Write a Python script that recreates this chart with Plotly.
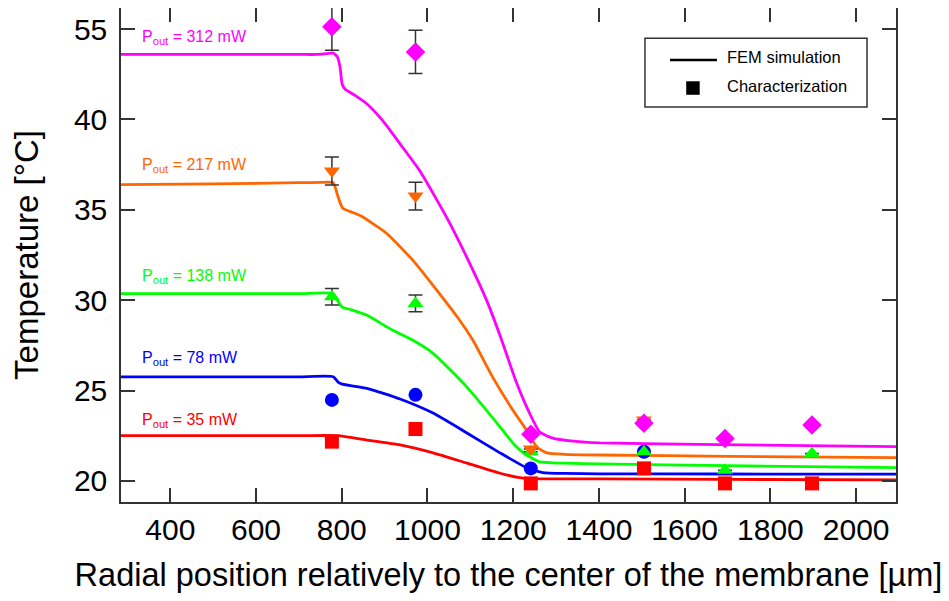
import plotly.graph_objects as go

# ---------------- data ----------------
meas_x = [777, 972, 1241, 1505, 1694, 1897]

red_meas = [22.17, 22.87, 19.86, 20.69, 19.86, 19.86]
blue_meas = [24.48, 24.76, 20.69, 21.61]
green_meas = [30.19, 29.82, 21.61, 21.61, 20.59, 21.52]
green_err = [0.46, 0.46, None, None, None, None]
orange_meas = [37.15, 35.76, 21.76, 23.37]
orange_err = [0.78, 0.77, None, None]
magenta_meas = [45.13, 43.74, 22.58, 23.19, 22.35, 23.09]
magenta_err = [1.3, 1.2, None, None, None, None]

mag_sim_x = [285, 500, 700, 742, 765, 780, 790, 796, 801, 808, 830, 859, 896, 936, 982, 1045, 1092, 1138, 1169, 1208, 1238, 1262, 1292, 1340, 1401, 1681, 2093]
mag_sim_y = [43.6, 43.6, 43.6, 43.6, 43.64, 43.68, 43.45, 42.9, 41.95, 41.67, 41.35, 40.86, 39.92, 38.65, 37.16, 34.57, 32.36, 29.99, 28.06, 25.41, 23.75, 22.7, 22.37, 22.2, 22.1, 22.01, 21.89]

ora_sim_x = [285, 500, 700, 749, 780, 789, 796, 803, 820, 843, 905, 966, 1022, 1075, 1106, 1152, 1199, 1231, 1255, 1278, 1320, 1401, 1700, 2093]
ora_sim_y = [36.39, 36.44, 36.5, 36.52, 36.5, 35.9, 35.4, 35.07, 34.9, 34.68, 33.69, 32.2, 30.54, 28.89, 27.78, 25.74, 23.92, 22.81, 21.88, 21.55, 21.47, 21.43, 21.36, 21.29]

grn_sim_x = [285, 500, 700, 780, 792, 801, 825, 859, 919, 966, 1013, 1092, 1162, 1199, 1231, 1262, 1320, 1401, 1700, 2093]
grn_sim_y = [30.36, 30.36, 30.36, 30.36, 29.9, 29.62, 29.45, 29.16, 28.33, 27.78, 27.06, 25.19, 23.2, 22.1, 21.43, 21.05, 20.98, 20.94, 20.84, 20.73]

blu_sim_x = [285, 500, 700, 780, 792, 801, 859, 936, 1013, 1092, 1169, 1231, 1269, 1320, 1401, 1700, 2093]
blu_sim_y = [25.76, 25.76, 25.76, 25.76, 25.45, 25.35, 25.12, 24.53, 23.75, 22.65, 21.55, 20.73, 20.46, 20.41, 20.39, 20.38, 20.37]

red_sim_x = [285, 500, 700, 789, 859, 936, 1013, 1092, 1169, 1215, 1262, 1401, 1700, 2093]
red_sim_y = [22.5, 22.5, 22.5, 22.5, 22.26, 21.99, 21.55, 20.98, 20.42, 20.18, 20.11, 20.11, 20.08, 20.06]

labels = ["P<sub>out</sub> = 312 mW", "P<sub>out</sub> = 217 mW", "P<sub>out</sub> = 138 mW",
          "P<sub>out</sub> = 78 mW", "P<sub>out</sub> = 35 mW"]
label_y = [44.55, 37.43, 31.33, 26.76, 23.32]
label_x = 330

legend_names = ["FEM simulation", "Characterization"]

y_tickvals = [20, 25, 30, 35, 40, 45]
y_ticktext = ["20", "25", "30", "35", "40", "55"]
x_tickvals = [400, 600, 800, 1000, 1200, 1400, 1600, 1800, 2000]

colors = ["#FF00FF", "#FF6600", "#00FF00", "#0000FF", "#FF0000"]
FONT = "Liberation Sans, Arial, sans-serif"

fig = go.Figure()

sims = [(mag_sim_x, mag_sim_y), (ora_sim_x, ora_sim_y), (grn_sim_x, grn_sim_y),
        (blu_sim_x, blu_sim_y), (red_sim_x, red_sim_y)]
for (sx, sy), c in zip(reversed(sims), reversed(colors)):
    fig.add_trace(go.Scatter(x=sx, y=sy, mode="lines",
                             line=dict(color=c, width=2.8, shape="spline", smoothing=0.5),
                             showlegend=False, hoverinfo="skip"))

err_style = dict(type="data", color="#333333", thickness=1.5, width=7, visible=True)

meas = [
    (meas_x[:len(magenta_meas)], magenta_meas, magenta_err, "diamond", colors[0]),
    (meas_x[:len(orange_meas)], orange_meas, orange_err, "triangle-down", colors[1]),
    (meas_x[:len(green_meas)], green_meas, green_err, "triangle-up", colors[2]),
    (meas_x[:len(blue_meas)], blue_meas, None, "circle", colors[3]),
    (meas_x[:len(red_meas)], red_meas, None, "square", colors[4]),
]
for mx, my, me, sym, c in reversed(meas):
    kw = {}
    if me is not None:
        kw["error_y"] = dict(array=me, **err_style)
    fig.add_trace(go.Scatter(x=mx, y=my, mode="markers",
                             marker=dict(symbol=sym, color=c, size=14 if sym != "diamond" else 15,
                                         line=dict(width=0)),
                             showlegend=False, **kw))

for t, yv, c in zip(labels, label_y, colors):
    fig.add_annotation(x=label_x, y=yv, text=t, showarrow=False, xanchor="left", yanchor="middle",
                       font=dict(family=FONT, size=16, color=c))

# legend box (drawn in paper coordinates)
fig.add_shape(type="rect", xref="paper", yref="paper", x0=0.6761, x1=0.9626, y0=0.7996, y1=0.9387,
              line=dict(color="#333333", width=1.5), fillcolor="white", layer="above")
fig.add_shape(type="line", xref="paper", yref="paper", x0=0.7084, x1=0.769, y0=0.8947, y1=0.8947,
              line=dict(color="black", width=2.5), layer="above")
fig.add_shape(type="rect", xref="paper", yref="paper", x0=0.738 - 0.0087, x1=0.738 + 0.0087,
              y0=0.838 - 0.0137, y1=0.838 + 0.0137, line=dict(width=0), fillcolor="black", layer="above")
for name, yp in zip(legend_names, [0.9008, 0.8421]):
    fig.add_annotation(x=0.7794, y=yp, xref="paper", yref="paper", text=name, showarrow=False,
                       xanchor="left", yanchor="middle", font=dict(family=FONT, size=16.5, color="black"))

axis_common = dict(showgrid=False, zeroline=False, showline=True, linecolor="#333333", linewidth=1.5,
                   ticks="inside", ticklen=14, tickwidth=1.5, tickcolor="#333333", mirror="ticks",
                   tickfont=dict(family=FONT, size=30, color="black"))

fig.update_layout(
    width=949, height=601,
    margin=dict(l=113, r=61, t=0, b=107, autoexpand=False),
    plot_bgcolor="white", paper_bgcolor="white",
    showlegend=False,
    font=dict(family=FONT, color="black"),
    xaxis=dict(range=[285, 2093], tickvals=x_tickvals,
               title=dict(text="Radial position relatively to the center of the membrane [µm]",
                          font=dict(family=FONT, size=32.5, color="black"), standoff=18),
               **axis_common),
    yaxis=dict(range=[18.83, 46.17], tickvals=y_tickvals, ticktext=y_ticktext, ticklabelstandoff=6,
               title=dict(text="Temperature [°C]", font=dict(family=FONT, size=33, color="black"), standoff=26),
               **axis_common),
)

fig.write_html("out.html")
